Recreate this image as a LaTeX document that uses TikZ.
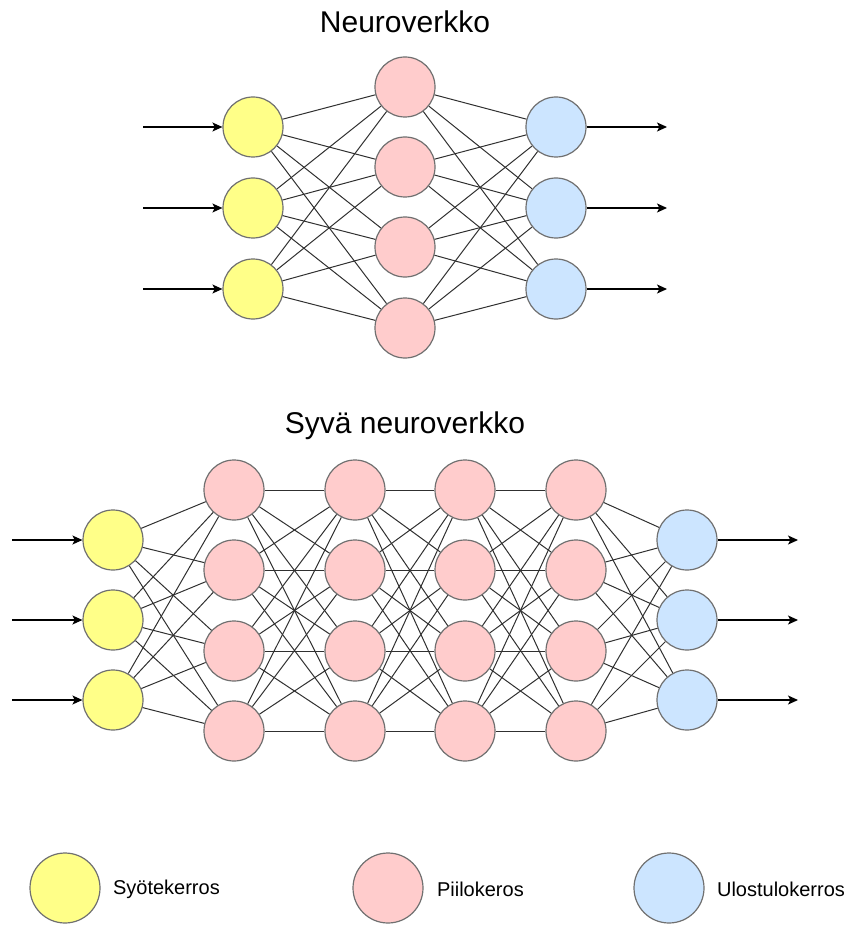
\documentclass[tikz,border=0pt]{standalone}
\usepackage{fontspec}
\setmainfont{Liberation Sans}
\usetikzlibrary{arrows.meta}
\definecolor{InYellow} {HTML}{FFFF88}
\definecolor{HidPink}  {HTML}{FFCCCC}
\definecolor{OutBlue}  {HTML}{CCE5FF}
\definecolor{RimGray}  {HTML}{707070}
\definecolor{LinkGray} {HTML}{303030}

\begin{document}
\begin{tikzpicture}[
  x=0.5pt, y=-0.5pt,
  neuron/.style={
    circle, draw=RimGray, line width=0.6pt,
    minimum size=30pt, inner sep=0pt
  },
  inp/.style={neuron, fill=InYellow},
  hid/.style={neuron, fill=HidPink},
  outp/.style={neuron, fill=OutBlue},
  link/.style={draw=LinkGray, line width=0.5pt},
  arrow/.style={
    -{Stealth[length=5pt, width=4.5pt, inset=1.2pt]},
    line width=0.6pt, black},
  title/.style={font=\fontsize{15}{18}\selectfont},
  legend/.style={font=\fontsize{10}{12}\selectfont, anchor=west}
]
\useasboundingbox (0,0) rectangle (849,925);

% --- ordinary network ---
\node[title] (t1) at (405,22) {Neuroverkko};

\foreach \i/\y in {1/127,2/208,3/289} {
  \node[inp] (a\i) at (253,\y) {};
  \node[outp] (c\i) at (556,\y) {};
  \coordinate (ain\i) at (143,\y);
  \coordinate (cout\i) at (667,\y);
}
\foreach \i/\y in {1/87,2/167,3/247,4/328}
  \node[hid] (b\i) at (405,\y) {};

\foreach \i in {1,2,3} {
  \draw[arrow] (ain\i) -- (a\i);
  \draw[arrow] (c\i) -- (cout\i);
  \foreach \j in {1,...,4} {
    \draw[link] (a\i) -- (b\j);
    \draw[link] (b\j) -- (c\i);
  }
}

% --- deep network ---
\node[title] (t2) at (405,426) {Syvä neuroverkko};

\foreach \i/\y in {1/540,2/620,3/700} {
  \node[inp] (d\i) at (113,\y) {};
  \node[outp] (o\i) at (687,\y) {};
  \coordinate (din\i) at (12,\y);
  \coordinate (oout\i) at (798,\y);
}
\foreach \l/\x in {1/234,2/355,3/465,4/576}
  \foreach \i/\y in {1/490,2/570,3/651,4/731}
    \node[hid] (h\l-\i) at (\x,\y) {};

\foreach \i in {1,2,3} {
  \draw[arrow] (din\i) -- (d\i);
  \draw[arrow] (o\i) -- (oout\i);
  \foreach \j in {1,...,4} {
    \draw[link] (d\i) -- (h1-\j);
    \draw[link] (h4-\j) -- (o\i);
  }
}
\foreach \l/\m in {1/2,2/3,3/4}
  \foreach \i in {1,...,4}
    \foreach \j in {1,...,4}
      \draw[link] (h\l-\i) -- (h\m-\j);

% --- legend ---
\node[inp, minimum size=35pt] (k1) at (65,888) {};
\node[legend] (k1t) at (106,889) {Syötekerros};
\node[hid, minimum size=35pt] (k2) at (388,888) {};
\node[legend] (k2t) at (430,889) {Piilokeros};
\node[outp, minimum size=35pt] (k3) at (669,888) {};
\node[legend] (k3t) at (710,889) {Ulostulokerros};

\end{tikzpicture}
\end{document}
